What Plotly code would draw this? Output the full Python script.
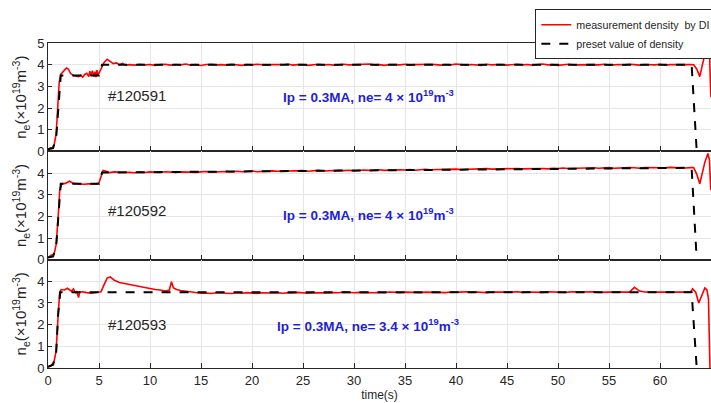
import plotly.graph_objects as go
from plotly.subplots import make_subplots

# ---------------- data ----------------
# shot #120591
t1_head = [0.0, 0.2, 0.4, 0.6, 0.8, 0.95, 1.1, 1.25, 1.5, 1.8, 2.0, 2.2, 2.5, 2.8, 3.0, 3.2, 3.4, 3.6, 3.8,
           4.0, 4.1, 4.2, 4.35, 4.5, 4.6, 4.7, 4.8, 4.9, 5.0, 5.1, 5.3, 5.5, 5.8, 6.1, 6.4, 6.7, 7.0, 7.3, 7.6]
v1_head = [0.05, 0.15, 0.15, 0.3, 0.8, 2.0, 3.2, 3.55, 3.7, 3.85, 3.8, 3.6, 3.5, 3.48, 3.45, 3.52, 3.42, 3.55, 3.6,
           3.45, 3.7, 3.5, 3.72, 3.45, 3.68, 3.42, 3.75, 3.5, 3.6, 3.7, 3.95, 4.1, 4.25, 4.15, 4.05, 4.08, 4.0, 4.06, 3.98]
v1_flat = [4.00, 3.98, 4.02, 3.99, 4.01, 3.97, 4.00, 4.02, 3.98, 4.01,
           3.99, 4.03, 3.98, 4.00, 3.96, 4.01, 4.02, 3.99, 4.00, 3.98,
           4.02, 4.00, 3.97, 4.01, 3.99, 4.02, 4.00, 3.98, 4.01, 3.99,
           4.00, 4.03, 3.98, 4.00, 4.01, 3.97, 4.00, 4.02, 3.99, 4.01,
           3.98, 4.00, 4.02, 3.99, 4.00, 3.98, 4.01, 4.03, 3.99, 4.00,
           3.97, 4.01, 4.00, 3.99, 4.02, 3.98, 4.00, 4.01, 3.99, 4.02,
           4.00, 3.98, 4.01, 3.99, 4.03, 4.00, 3.98, 4.01, 4.00, 3.97,
           4.02, 3.99, 4.00, 4.01, 3.98, 4.00, 4.02, 3.99, 4.01, 3.98,
           4.00, 4.03, 3.99, 4.00, 3.97, 4.01, 4.02, 3.99, 4.00, 3.98,
           4.01, 4.00, 3.99, 4.02, 3.98, 4.00, 4.01, 3.99, 4.02, 4.00,
           3.98, 4.01, 4.00, 3.99, 4.02, 3.98, 4.00, 4.01, 3.99, 4.02, 4.01]
t1_tail = [63.3, 63.6, 63.9, 64.1, 64.4, 64.7, 64.85, 64.95, 65.0]
v1_tail = [4.0, 3.8, 3.45, 3.9, 4.5, 4.85, 4.7, 3.0, 2.5]
p1_t = [0.0, 0.5, 0.8, 1.0, 1.25, 5.0, 5.3, 63.1, 63.6]
p1_v = [0.1, 0.15, 0.6, 2.0, 3.5, 3.5, 4.0, 4.0, 0.0]

# shot #120592
t2_head = [0.0, 0.3, 0.6, 0.8, 1.0, 1.15, 1.35, 1.7, 2.1, 2.5, 3.0, 3.5, 4.0, 4.5, 4.8, 5.0, 5.2, 5.4, 5.7,
           6.0, 6.5, 7.0, 7.5]
v2_head = [0.1, 0.2, 0.25, 0.7, 2.0, 3.2, 3.5, 3.52, 3.62, 3.52, 3.5, 3.48, 3.5, 3.52, 3.5, 3.55, 3.9, 4.12, 4.08,
           4.02, 4.05, 4.03, 4.02]
v2_flat = [4.03, 4.01, 4.04, 4.02, 4.05, 4.03, 4.02, 4.06, 4.04, 4.03,
           4.05, 4.04, 4.06, 4.03, 4.05, 4.07, 4.04, 4.06, 4.05, 4.07,
           4.05, 4.08, 4.06, 4.07, 4.09, 4.06, 4.08, 4.07, 4.10, 4.08,
           4.09, 4.07, 4.10, 4.09, 4.11, 4.08, 4.10, 4.12, 4.09, 4.11,
           4.10, 4.12, 4.11, 4.13, 4.10, 4.12, 4.14, 4.12, 4.13, 4.15,
           4.12, 4.14, 4.13, 4.15, 4.14, 4.16, 4.13, 4.15, 4.17, 4.15,
           4.16, 4.14, 4.17, 4.16, 4.18, 4.16, 4.17, 4.19, 4.17, 4.18,
           4.20, 4.18, 4.19, 4.17, 4.20, 4.19, 4.21, 4.19, 4.20, 4.22,
           4.20, 4.21, 4.19, 4.22, 4.21, 4.23, 4.21, 4.22, 4.20, 4.23,
           4.22, 4.24, 4.22, 4.23, 4.25, 4.22, 4.24, 4.23, 4.25, 4.24,
           4.22, 4.25, 4.24, 4.23, 4.25, 4.24, 4.26, 4.24, 4.25, 4.23, 4.25]
t2_tail = [63.3, 63.6, 63.9, 64.1, 64.4, 64.7, 64.85, 64.95, 65.0]
v2_tail = [4.25, 3.95, 3.5, 3.9, 4.5, 4.9, 4.6, 3.5, 3.2]
p2_t = [0.0, 0.5, 0.8, 1.0, 1.25, 5.0, 5.3, 63.1, 63.6]
p2_v = [0.1, 0.15, 0.6, 2.0, 3.5, 3.5, 4.02, 4.24, 0.0]

# shot #120593
t3_head = [0.0, 0.3, 0.6, 0.8, 1.0, 1.15, 1.3, 1.6, 1.9, 2.1, 2.3, 2.5, 2.7, 2.8, 3.0, 3.1, 3.4, 3.8, 4.3,
           4.8, 5.2, 5.5, 5.8, 6.1, 6.5, 7.0, 7.5, 8.0, 8.5, 9.0, 9.5, 10.0, 10.5, 11.0, 11.5, 11.9, 12.1,
           12.3, 12.6, 13.0, 13.5, 14.0, 14.5, 15.0, 15.5, 16.0, 16.5, 17.0]
v3_head = [0.05, 0.1, 0.3, 0.8, 2.5, 3.5, 3.62, 3.6, 3.68, 3.6, 3.55, 3.65, 3.45, 3.55, 3.25, 3.5, 3.52, 3.48, 3.45,
           3.5, 3.52, 3.85, 4.15, 4.2, 4.05, 3.95, 3.9, 3.85, 3.82, 3.75, 3.72, 3.68, 3.62, 3.6, 3.55, 3.6, 3.98,
           3.7, 3.62, 3.58, 3.55, 3.5, 3.48, 3.45, 3.46, 3.44, 3.47, 3.45]
v3_flat = [3.46, 3.44, 3.47, 3.45, 3.48, 3.46, 3.44, 3.47, 3.45, 3.46,
           3.48, 3.45, 3.47, 3.46, 3.49, 3.47, 3.45, 3.48, 3.47, 3.49,
           3.46, 3.48, 3.47, 3.50, 3.48, 3.47, 3.49, 3.48, 3.50, 3.47,
           3.49, 3.48, 3.51, 3.49, 3.48, 3.50, 3.49, 3.51, 3.48, 3.50,
           3.49, 3.51, 3.50, 3.48, 3.51, 3.49, 3.50, 3.52, 3.49, 3.51,
           3.50, 3.48, 3.51, 3.50, 3.49, 3.51, 3.50, 3.52, 3.49, 3.51,
           3.50, 3.51, 3.49, 3.52, 3.50, 3.51, 3.49, 3.50, 3.52, 3.50,
           3.51, 3.50, 3.52, 3.49, 3.51, 3.50, 3.51, 3.50, 3.52, 3.50,
           3.72, 3.55, 3.51, 3.50, 3.52, 3.50, 3.51, 3.50, 3.52, 3.50,
           3.51, 3.50]
t3_tail = [63.2, 63.5, 63.8, 64.1, 64.4, 64.6, 64.75, 64.9]
v3_tail = [3.65, 3.5, 3.0, 3.4, 3.7, 3.6, 3.2, 0.0]
p3_t = [0.0, 0.5, 0.8, 1.0, 1.2, 63.1, 63.6]
p3_v = [0.05, 0.15, 0.7, 2.5, 3.5, 3.5, 0.0]

shots = ["#120591", "#120592", "#120593"]
infos = ["<b>Ip = 0.3MA, ne= 4 × 10<sup>19</sup>m<sup>-3</sup></b>",
         "<b>Ip = 0.3MA, ne= 4 × 10<sup>19</sup>m<sup>-3</sup></b>",
         "<b>Ip = 0.3MA, ne= 3.4 × 10<sup>19</sup>m<sup>-3</sup></b>"]
shot_y = [2.6, 2.27, 2.0]
info_y = [2.57, 2.1, 2.0]
x_ticks = [0, 5, 10, 15, 20, 25, 30, 35, 40, 45, 50, 55, 60, 65]

# sampling grids of the flat parts
grid1 = [8.0 + 0.5 * i for i in range(len(v1_flat))]
grid2 = [8.0 + 0.5 * i for i in range(len(v2_flat))]
grid3 = [17.5 + 0.5 * i for i in range(len(v3_flat))]

meas = [
    (t1_head + grid1 + t1_tail, v1_head + v1_flat + v1_tail),
    (t2_head + grid2 + t2_tail, v2_head + v2_flat + v2_tail),
    (t3_head + grid3 + t3_tail, v3_head + v3_flat + v3_tail),
]
preset = [(p1_t, p1_v), (p2_t, p2_v), (p3_t, p3_v)]

# ---------------- figure ----------------
fig = make_subplots(rows=3, cols=1, shared_xaxes=True, vertical_spacing=0)

FONT = "Liberation Sans, Arial, sans-serif"
for i in range(3):
    r = i + 1
    fig.add_trace(go.Scatter(x=meas[i][0], y=meas[i][1], mode="lines",
                             line=dict(color="#ff0000", width=1.6),
                             name="measurement density  by DI", showlegend=(i == 0)),
                  row=r, col=1)
    fig.add_trace(go.Scatter(x=preset[i][0], y=preset[i][1], mode="lines",
                             line=dict(color="#000000", width=2, dash="dash"),
                             name="preset value of density", showlegend=(i == 0)),
                  row=r, col=1)
    fig.add_annotation(x=8.7, y=shot_y[i], text=shots[i], showarrow=False,
                       font=dict(size=15, color="#262626", family=FONT), row=r, col=1)
    fig.add_annotation(x=31.4, y=info_y[i], text=infos[i], showarrow=False,
                       font=dict(size=13.5, color="#1f1fd6", family=FONT), row=r, col=1)
    fig.update_yaxes(range=[0, 5], automargin=False,
                     tickvals=[0, 1, 2, 3, 4, 5] if i == 0 else [0, 1, 2, 3, 4],
                     ticks="inside", ticklen=4, tickcolor="#262626",
                     showgrid=True, gridcolor="#e6e6e6", gridwidth=1,
                     showline=True, linecolor="#262626", linewidth=1, mirror=True,
                     zeroline=False,
                     tickfont=dict(size=13, color="#262626", family=FONT),
                     title=dict(text="n<sub>e</sub>(×10<sup>19</sup>m<sup>-3</sup>)",
                                font=dict(size=15, color="#262626", family=FONT), standoff=6),
                     row=r, col=1)
    fig.update_xaxes(range=[0, 65], tickvals=x_ticks, automargin=False,
                     ticks="inside", ticklen=5, tickcolor="#262626",
                     showgrid=True, gridcolor="#e6e6e6", gridwidth=1,
                     showline=True, linecolor="#262626", linewidth=1, mirror=True,
                     zeroline=False, showticklabels=(i == 2),
                     tickfont=dict(size=13, color="#262626", family=FONT),
                     row=r, col=1)

fig.update_xaxes(title=dict(text="time(s)", font=dict(size=12, color="#262626", family=FONT),
                            standoff=0), row=3, col=1)

fig.update_layout(
    width=711, height=403,
    margin=dict(l=48, r=0, t=43, b=35, autoexpand=False),
    paper_bgcolor="white", plot_bgcolor="white",
    font=dict(family=FONT),
    legend=dict(x=0.735, y=1.104, xanchor="left", yanchor="top",
                bgcolor="white", bordercolor="#262626", borderwidth=1,
                font=dict(size=10.7, color="#262626", family=FONT),
                tracegroupgap=0, itemwidth=30),
)

fig.write_html("out.html", config={"displayModeBar": False},
               post_script="document.body.style.margin='0';document.body.style.overflow='hidden';")
